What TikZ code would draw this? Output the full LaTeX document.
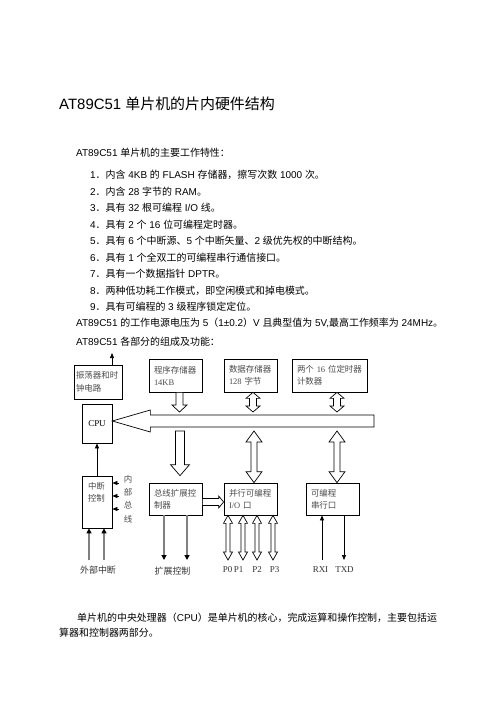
\documentclass[tikz,border=0pt]{standalone}
\usepackage{fontspec}
\setmainfont{Liberation Sans}
\newfontfamily\cjk{Noto Sans CJK SC}
\newfontfamily\serif{Liberation Serif}
\usetikzlibrary{calc,arrows.meta}

% Chinese characters are set in the CJK font
\XeTeXinterchartokenstate=1
\newXeTeXintercharclass\cjkclass
\newcount\cjkcode
\newcommand\cjkrange[2]{\cjkcode=#1\relax
  \loop\XeTeXcharclass\cjkcode=\cjkclass\relax
  \advance\cjkcode by 1\relax\ifnum\cjkcode<#2\repeat}
\cjkrange{"3000}{"3040}
\cjkrange{"4E00}{"A000}
\cjkrange{"FF00}{"FFF0}
\newcommand\lat{\rmfamily}
\XeTeXinterchartoks 0 \cjkclass = {\cjk}
\XeTeXinterchartoks 4095 \cjkclass = {\cjk}
\XeTeXinterchartoks \cjkclass 0 = {\lat}
\XeTeXinterchartoks \cjkclass 4095 = {\lat}

\newcommand\titlefont{\fontsize{15}{18}\selectfont}
\newcommand\bodyfont{\fontsize{10}{12}\selectfont}
\newcommand\boxfont{\fontsize{8.5}{12}\selectfont\serif\let\lat\serif}

\tikzset{
  txt/.style={anchor=west, inner sep=0pt, font=\bodyfont},
  box/.style={draw, line width=.7bp, inner xsep=5bp, inner ysep=0pt, align=left, font=\boxfont, text=black!70},
  lbl/.style={inner sep=0pt, font={\boxfont\fontsize{9}{11}\selectfont}, text=black!80},
  arrowdims/.code n args={3}{\def\shaftw{#1}\def\headw{#2}\def\headl{#3}},
  hollow/.style={draw, fill=white, line width=.7bp},
  thinarrow/.style={draw, line width=.7bp, -{Triangle[length=5bp,width=4bp]}},
  grayarrow/.style={draw=black!50, line width=1.8bp, -{Triangle[length=5bp,width=5bp,color=black]}},
}

\newcommand\blockarrow[3]{%
  \coordinate (ba-s) at (#2);
  \coordinate (ba-t) at (#3);
  \draw[hollow,#1] ($(ba-s)!\shaftw!90:(ba-t)$)
    -- ($(ba-t)!\headl!(ba-s)!\shaftw!90:(ba-t)$)
    -- ($(ba-t)!\headl!(ba-s)!\headw!90:(ba-t)$)
    -- (ba-t)
    -- ($(ba-t)!\headl!(ba-s)!\headw!-90:(ba-t)$)
    -- ($(ba-t)!\headl!(ba-s)!\shaftw!-90:(ba-t)$)
    -- ($(ba-s)!\shaftw!-90:(ba-t)$) -- cycle;}

\newcommand\dblockarrow[3]{%
  \coordinate (ba-s) at (#2);
  \coordinate (ba-t) at (#3);
  \draw[hollow,#1] (ba-s)
    -- ($(ba-s)!\headl!(ba-t)!\headw!90:(ba-t)$)
    -- ($(ba-s)!\headl!(ba-t)!\shaftw!90:(ba-t)$)
    -- ($(ba-t)!\headl!(ba-s)!\shaftw!90:(ba-t)$)
    -- ($(ba-t)!\headl!(ba-s)!\headw!90:(ba-t)$)
    -- (ba-t)
    -- ($(ba-t)!\headl!(ba-s)!\headw!-90:(ba-t)$)
    -- ($(ba-t)!\headl!(ba-s)!\shaftw!-90:(ba-t)$)
    -- ($(ba-s)!\headl!(ba-t)!\shaftw!-90:(ba-t)$)
    -- ($(ba-s)!\headl!(ba-t)!\headw!-90:(ba-t)$) -- cycle;}

\begin{document}
\begin{tikzpicture}[x=1bp,y=-1bp]
  \path[use as bounding box, fill=white] (0,0) rectangle (496,702);

  \node[txt, font=\titlefont] (title) at (59,104) {AT89C51 单片机的片内硬件结构};
  \node[txt] (feat) at (76,153) {AT89C51 单片机的主要工作特性：};
  \foreach[evaluate={175+16.5*(\n-1)} as \y] \n/\t in {
      1/{内含 4KB 的 FLASH 存储器，擦写次数 1000 次。},
      2/{内含 28 字节的 RAM。},
      3/{具有 32 根可编程 I/O 线。},
      4/{具有 2 个 16 位可编程定时器。},
      5/{具有 6 个中断源、5 个中断矢量、2 级优先权的中断结构。},
      6/{具有 1 个全双工的可编程串行通信接口。},
      7/{具有一个数据指针 DPTR。},
      8/{两种低功耗工作模式，即空闲模式和掉电模式。},
      9/{具有可编程的 3 级程序锁定定位。}} {
    \node[txt] (item\n) at (90,\y) {\n ．\t};
  }
  \node[txt] (volt) at (76,322.5) {AT89C51 的工作电源电压为 5（1±0.2）V 且典型值为 5V,最高工作频率为 24MHz。};
  \node[txt] (parts) at (76,341.5) {AT89C51 各部分的组成及功能：};

  \node[box, text width=44bp, inner xsep=2bp, minimum height=34bp] (osc) at (98,382) {振荡器和时\\[1bp]钟电路};
  \node[box, minimum width=30bp, minimum height=39bp, text=black, font={\serif\fontsize{9}{11}\selectfont}] (cpu) at (97,423.5) {CPU};
  \node[box, text width=43bp, minimum height=33bp] (prog) at (175.5,375.5) {程序存储器\\14KB};
  \node[box, text width=43bp, minimum height=33bp] (data) at (250.5,375.5) {数据存储器\\128 字节};
  \node[box, text width=65bp, minimum height=33bp] (timer) at (329.5,375.5) {两个 16 位定时器\\计数器};
  \node[box, text width=18bp, inner xsep=6bp, text height=13bp, text depth=39bp] (intr) at (97,502) {中断\\[1bp]控制};
  \node[lbl, inner xsep=4.5bp, align=center, text=black!70, font={\boxfont\fontsize{8.5}{13.3}\selectfont}] (inbus) at (128,499) {内\\部\\总\\线};
  \node[box, text width=43bp, minimum height=32bp] (bctl) at (175.5,499) {总线扩展控\\制器};
  \node[box, text width=43bp, minimum height=32bp] (par) at (250.5,499) {并行可编程\\I/O 口};
  \node[box, text width=43bp, minimum height=32bp] (ser) at (332.5,499) {可编程\\串行口};

  \coordinate (busend) at (374,421);
  \coordinate (bustop) at (0,412);
  \coordinate (busbot) at (0,431);
  \blockarrow{arrowdims={6bp}{11bp}{38bp}}{busend}{cpu.east |- busend}
  \blockarrow{arrowdims={3.5bp}{7.5bp}{7bp}}{[xshift=4bp]prog.south}{[xshift=4bp]prog.south |- bustop}
  \dblockarrow{arrowdims={3.5bp}{7bp}{6bp}}{[xshift=2.5bp]data.south}{[xshift=2.5bp]data.south |- bustop}
  \dblockarrow{arrowdims={3.5bp}{7bp}{6bp}}{[xshift=7.5bp]timer.south}{[xshift=7.5bp]timer.south |- bustop}
  \blockarrow{arrowdims={4.5bp}{9.5bp}{11bp}}{[xshift=4.5bp]bctl.north |- busbot}{[shift={(4.5bp,7bp)}]bctl.north}
  \dblockarrow{arrowdims={3bp}{8bp}{11bp}}{[xshift=3.5bp]par.north |- busbot}{[xshift=3.5bp]par.north}
  \dblockarrow{arrowdims={3bp}{8bp}{11bp}}{[xshift=4.5bp]ser.north |- busbot}{[xshift=4.5bp]ser.north}
  \blockarrow{arrowdims={3.5bp}{6bp}{5bp}}{[yshift=-3bp]bctl.east}{[yshift=-3bp]par.west}

  \coordinate (clk) at (112,353);
  \draw[thinarrow] (clk |- osc.north) -- (clk);
  \draw[thinarrow] (intr) -- (cpu);
  \foreach \y in {483,496,509}
    \draw[thinarrow] (inbus.west |- 0,\y) -- (intr.east |- 0,\y);

  \foreach \x/\i in {89/1,104/2} {
    \coordinate (ext\i) at (\x,560);
    \draw[grayarrow] (ext\i) -- (ext\i |- intr.south);
  }
  \foreach \x/\i in {164/1,187/2} {
    \coordinate (exp\i) at (\x,560);
    \draw[grayarrow] (exp\i |- bctl.south) -- (exp\i);
  }
  \foreach \x/\p/\lx in {228/0/227.5,243/1/238.5,257/2/257,273/3/274.5} {
    \coordinate (port\p) at (\x,560);
    \dblockarrow{arrowdims={2bp}{4.5bp}{8bp}}{par.south -| port\p}{port\p}
    \node[lbl] (p\p) at (\lx,570) {P\p};
  }
  \coordinate (rxd) at (322,560);
  \coordinate (txd) at (344,560);
  \draw[thinarrow] (rxd) -- (rxd |- ser.south);
  \draw[thinarrow] (txd |- ser.south) -- (txd);

  \node[lbl] (extint) at (98,570) {外部中断};
  \node[lbl] (extctl) at (172.5,571) {扩展控制};
  \node[lbl] (rxdl) at (320.5,570) {RXI};
  \node[lbl] (txdl) at (344.5,570) {TXD};

  \node[txt] (cpupar1) at (77,618) {单片机的中央处理器（CPU）是单片机的核心，完成运算和操作控制，主要包括运};
  \node[txt] (cpupar2) at (59,633) {算器和控制器两部分。};
\end{tikzpicture}
\end{document}
